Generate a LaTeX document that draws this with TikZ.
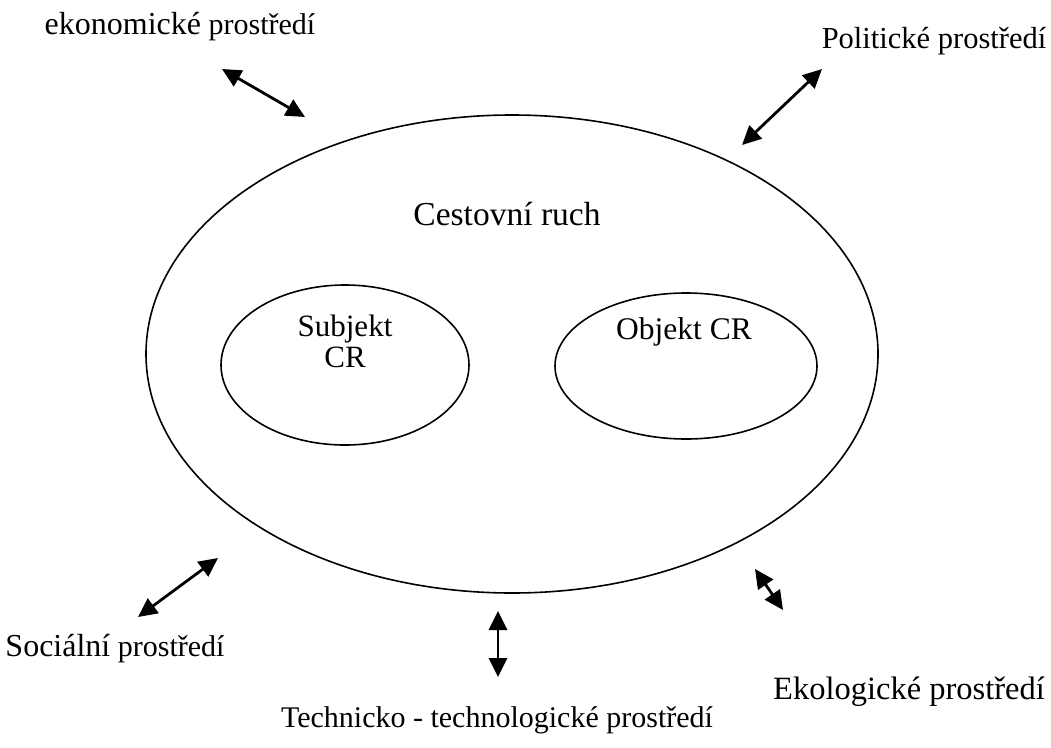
\documentclass[tikz,border=0pt]{standalone}
\usepackage{fontspec}
\setmainfont{Liberation Serif}
\usetikzlibrary{shapes.geometric,arrows.meta}
\begin{document}
\begin{tikzpicture}[x=1pt,y=-1pt,
  lbl/.style={inner sep=0pt,anchor=base,font=\fontsize{30}{36}\selectfont},
  ring/.style={draw,ellipse,line width=1.6pt,inner sep=0pt},
  link/.style={line width=2.8pt,{Triangle[length=19pt,width=18pt]}-{Triangle[length=19pt,width=18pt]}}]
\useasboundingbox (0,0) rectangle (1051,747);
% ellipses
\node[ring,minimum width=732pt,minimum height=478pt] (outer) at (512,354) {};
\node[ring,minimum width=248pt,minimum height=160pt] (subj) at (345,365) {};
\node[ring,minimum width=262pt,minimum height=146pt] (obj) at (686,366) {};
% texts
\node[lbl] (cr) at (507,225) {\fontsize{33.5}{38}\selectfont Cestovní ruch};
\node[lbl] (subjt) at (345,336) {\fontsize{31}{36}\selectfont Subjekt};
\node[lbl] (subjcr) at (345,367) {\fontsize{31}{36}\selectfont CR};
\node[lbl] (objt) at (684,339) {\fontsize{31.5}{36}\selectfont Objekt CR};
\node[lbl] (eko) at (180,34) {{\fontsize{32}{36}\selectfont ekonomické} prostředí};
\node[lbl] (pol) at (934,48) {\fontsize{30.5}{36}\selectfont Politické prostředí};
\node[lbl] (soc) at (115,656) {{\fontsize{32}{36}\selectfont Sociální} prostředí};
\node[lbl] (ekol) at (909,699) {\fontsize{32.5}{36}\selectfont Ekologické prostředí};
\node[lbl] (tech) at (497,727) {Technicko - technologické prostředí};
% arrow ends
\coordinate (a1s) at (222,69);  \coordinate (a1e) at (305,117);
\coordinate (a2s) at (822,69);  \coordinate (a2e) at (742,145);
\coordinate (a3s) at (218,558); \coordinate (a3e) at (138,617);
\coordinate (a4s) at (498,611); \coordinate (a4e) at (498,677);
\coordinate (a5s) at (755,569); \coordinate (a5e) at (783,610);
\draw[link] (a1s) -- (a1e);
\draw[link] (a2s) -- (a2e);
\draw[link] (a3s) -- (a3e);
\draw[link] (a4s) -- (a4e);
\draw[link] (a5s) -- (a5e);
\end{tikzpicture}
\end{document}
